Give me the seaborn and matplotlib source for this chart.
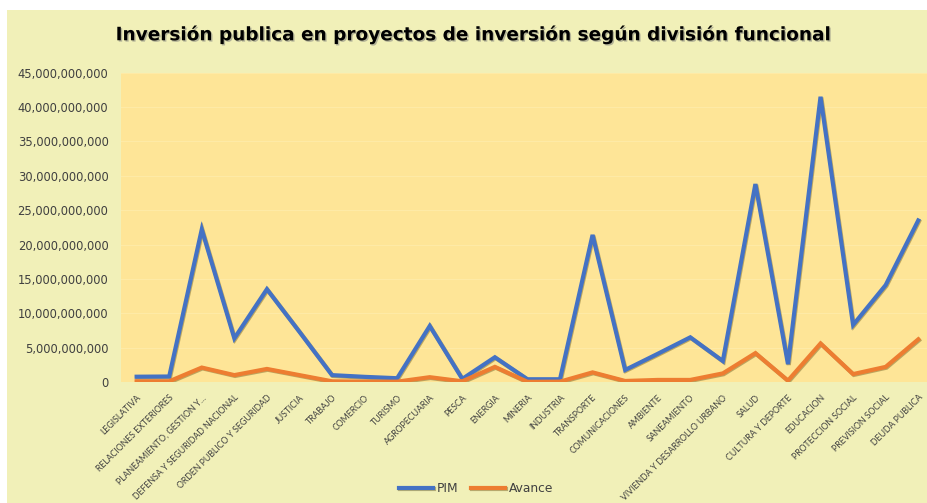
import seaborn as sns
import pandas as pd
import matplotlib.pyplot as plt
import matplotlib.patheffects as pe
from matplotlib.ticker import FuncFormatter

divisiones = ["LEGISLATIVA", "RELACIONES EXTERIORES", "PLANEAMIENTO, GESTION Y...",
              "DEFENSA Y SEGURIDAD NACIONAL", "ORDEN PUBLICO Y SEGURIDAD", "JUSTICIA",
              "TRABAJO", "COMERCIO", "TURISMO", "AGROPECUARIA", "PESCA", "ENERGIA",
              "MINERIA", "INDUSTRIA", "TRANSPORTE", "COMUNICACIONES", "AMBIENTE",
              "SANEAMIENTO", "VIVIENDA Y DESARROLLO URBANO", "SALUD", "CULTURA Y DEPORTE",
              "EDUCACION", "PROTECCION SOCIAL", "PREVISION SOCIAL", "DEUDA PUBLICA"]

# montos en millones de soles (se multiplican abajo)
pim = [770, 800, 22200, 6350, 13500, 7300, 1000, 750, 550, 8150, 450, 3600,
       400, 400, 21400, 1750, 4100, 6500, 3050, 28800, 2600, 41500, 8300, 14100, 23500]
avance = [100, 100, 2100, 1000, 1900, 1000, 100, 50, 50, 700, 100, 2200,
          30, 50, 1400, 150, 300, 300, 1250, 4200, 200, 5600, 1150, 2200, 6200]

df = pd.DataFrame({
    "Division": divisiones * 2,
    "Monto": [v * 1e6 for v in pim + avance],
    "Serie": ["PIM"] * len(pim) + ["Avance"] * len(avance),
})

pal = {"PIM": "#4472C4", "Avance": "#ED7D31"}
bg_out = "#F1F0B8"
bg_in = "#FEE597"

fig = plt.figure(figsize=(9.28, 5.03), dpi=100)
fig.patch.set_facecolor("white")
fig.patches.append(plt.Rectangle((7 / 928, 0), 1, 1 - 10 / 503, transform=fig.transFigure,
                                 facecolor=bg_out, edgecolor="none", zorder=-5))

ax = fig.add_axes([121 / 928, 1 - 382 / 503, 1 - 121 / 928, (382 - 72.7) / 503])
ax.set_facecolor(bg_in)

sns.lineplot(data=df, x="Division", y="Monto", hue="Serie", palette=pal, sort=False,
             linewidth=3.0, ax=ax)

for ln in ax.lines:
    ln.set_path_effects([pe.SimpleLineShadow(offset=(0.6, -0.6), shadow_color="#6b5a1e", alpha=0.45),
                         pe.Normal()])
    ln.set_solid_joinstyle("miter")

ax.set_ylim(0, 45e9)
ax.set_xlim(-0.48, 24.3)
ax.set_yticks([i * 5e9 for i in range(10)])
ax.yaxis.set_major_formatter(FuncFormatter(lambda v, p: f"{v:,.0f}"))
ax.grid(axis="y", color="#FEEAA6", linewidth=0.8)
ax.set_axisbelow(True)
for s in ax.spines.values():
    s.set_visible(False)
ax.tick_params(axis="both", length=0, colors="#404040")
ax.tick_params(axis="y", labelsize=8.3, pad=9)
ax.tick_params(axis="x", pad=8)
for lab in ax.get_xticklabels():
    lab.set_rotation(45)
    lab.set_ha("right")
    lab.set_rotation_mode("anchor")
    lab.set_fontsize(6.3)
    lab.set_family("Lato")
ax.set_xlabel("")
ax.set_ylabel("")

handles, labels = ax.get_legend_handles_labels()
ax.legend(handles, labels, loc="center", bbox_to_anchor=(476 / 928, 1 - 489 / 503),
          bbox_transform=fig.transFigure, ncol=2, frameon=False, fontsize=8.8,
          handlelength=2.8, columnspacing=1.0, handletextpad=0.3, labelcolor="#404040")

fig.text(473 / 928, 1 - 35 / 503, "Inversión publica en proyectos de inversión según división funcional",
         ha="center", va="center", fontsize=13.3, fontweight="bold", color="black",
         path_effects=[pe.withSimplePatchShadow(offset=(1, -1), shadow_rgbFace="#777777", alpha=0.5)])

fig.savefig("out.png", dpi=100, facecolor=fig.get_facecolor())
